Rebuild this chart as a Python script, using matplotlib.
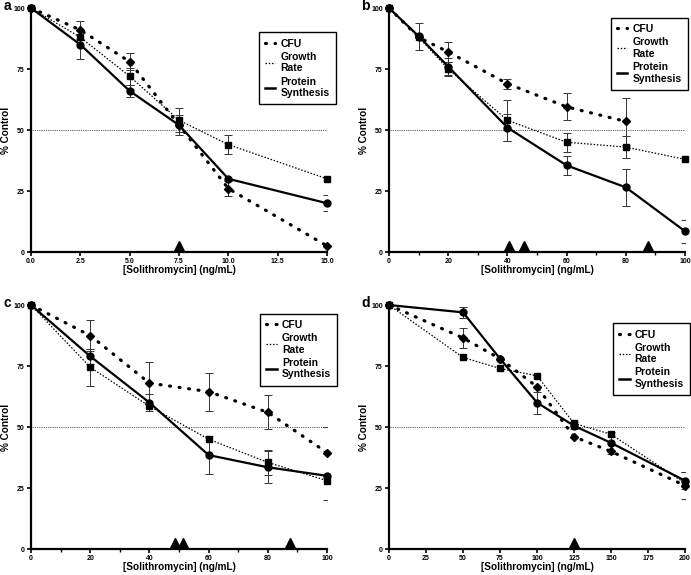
import numpy as np
import matplotlib
matplotlib.use("Agg")
import matplotlib.pyplot as plt
from matplotlib.lines import Line2D
from matplotlib.transforms import ScaledTranslation

plt.rcParams['font.family'] = ['Liberation Sans', 'DejaVu Sans']
plt.rcParams['font.weight'] = 'bold'

# panel a
a_x = [0, 2.5, 5, 7.5, 10, 15]
a_cfu = [100, 91, 78, 52, 26, 2.5]
a_cfu_err = [0, 3.5, 3.5, 0, 3, 0]
a_gr = [100, 88, 72, 54, 44, 30]
a_gr_err = [0, 0, 3.5, 5, 4, 0]
a_ps = [100, 85, 66, 52, 30, 20]
a_ps_err = [0, 6, 2.5, 4, 0, 3.3]
a_ic50 = [7.5]

# panel b
b_x = [0, 10, 20, 40, 60, 80, 100]
b_cfu = [100, 88, 82, 69, 59.5, 53.5, np.nan]
b_cfu_err = [0, 0, 4, 2, 5.5, 9.5, 0]
b_gr = [100, 88, 75, 54, 45, 43, 38]
b_gr_err = [0, 0, 3, 8.5, 3.8, 4.5, 0]
b_ps = [100, 88.5, 76, 51, 35.5, 26.5, 8.5]
b_ps_err = [0, 5.5, 3.5, 5.5, 4, 7.5, 4.8]
b_ic50 = [40.5, 45.5, 87.5]

# panel c
c_x = [0, 20, 40, 60, 80, 100]
c_cfu = [100, 87.5, 68, 64.5, 56, 39.5]
c_cfu_err = [0, 6.5, 8.5, 7.8, 7, 10.5]
c_gr = [100, 74.5, 58.5, 45, 35.5, 28]
c_gr_err = [0, 7.5, 0, 0, 5, 0]
c_ps = [100, 79, 60, 38.5, 33.5, 30]
c_ps_err = [0, 3, 3.5, 7.8, 6.5, 10]
c_ic50 = [48.5, 51.5, 87.5]

# panel d
d_x = [0, 50, 75, 100, 125, 150, 200]
d_cfu = [100, 86.5, 78, 66.5, 46, 40, 26]
d_cfu_err = [0, 4, 0, 0, 0, 0, 5.5]
d_gr = [100, 78.5, 74, 71, 51.5, 47, 27]
d_gr_err = [0, 0, 0, 0, 0, 0, 0]
d_ps = [100, 97, 78, 60, 50.5, 43.5, 28]
d_ps_err = [0, 2.3, 0, 4.5, 1.5, 4.5, 3.5]
d_ic50 = [125]

panels = [
    ("a", a_x, a_cfu, a_cfu_err, a_gr, a_gr_err, a_ps, a_ps_err, a_ic50, np.arange(0, 15.1, 2.5), None, "{:.1f}"),
    ("b", b_x, b_cfu, b_cfu_err, b_gr, b_gr_err, b_ps, b_ps_err, b_ic50, np.arange(0, 101, 20), np.arange(10, 100, 20), "{:.0f}"),
    ("c", c_x, c_cfu, c_cfu_err, c_gr, c_gr_err, c_ps, c_ps_err, c_ic50, np.arange(0, 101, 20), np.arange(10, 100, 20), "{:.0f}"),
    ("d", d_x, d_cfu, d_cfu_err, d_gr, d_gr_err, d_ps, d_ps_err, d_ic50, np.arange(0, 201, 25), None, "{:.0f}"),
]

# axes rectangles in figure fractions (left, bottom, width, height)
rects = [
    (0.0449, 0.5617, 0.4284, 0.4243),
    (0.5630, 0.5617, 0.4284, 0.4243),
    (0.0449, 0.0452, 0.4284, 0.4243),
    (0.5630, 0.0452, 0.4284, 0.4243),
]
# legend upper-right corner, axes fractions
leg_anchor = [(1.03, 0.90), (1.01, 0.96), (1.035, 0.965), (1.017, 0.925)]

CFU_LS = (0, (0.3, 2.7))
GR_LS = (0, (1.2, 1.4))

fig = plt.figure(figsize=(6.91, 5.75), dpi=100)

for (lab, x, cfu, cfu_e, gr, gr_e, ps, ps_e, ic50, ticks, minor, fmt), r, la in zip(panels, rects, leg_anchor):
    ax = fig.add_axes(r)
    x = np.array(x, float)

    ax.axhline(50, color="#222222", lw=0.6, ls=(0, (1.0, 1.2)), zorder=1)

    # error bars
    for y, e in [(cfu, cfu_e), (gr, gr_e), (ps, ps_e)]:
        y = np.array(y, float); e = np.array(e, float)
        m = (e > 0) & ~np.isnan(y)
        ax.errorbar(x[m], y[m], yerr=e[m], fmt="none", ecolor="#333333",
                    elinewidth=0.7, capsize=3, capthick=0.7, zorder=2)

    ax.plot(x, cfu, color="black", lw=2.3, ls=CFU_LS, dash_capstyle="round",
            marker="D", ms=4.5, zorder=3, clip_on=False)
    ax.plot(x, gr, color="black", lw=0.9, ls=GR_LS,
            marker="s", ms=5, zorder=3, clip_on=False)
    ax.plot(x, ps, color="black", lw=1.6, ls="-",
            marker="o", ms=5, zorder=4, clip_on=False)

    # IC50 triangles sitting on the x axis
    off = ax.transData + ScaledTranslation(0, 4 / 72, fig.dpi_scale_trans)
    ax.plot(ic50, np.zeros(len(ic50)), ls="none", marker="^", ms=6.5,
            color="black", transform=off, clip_on=False, zorder=5)

    ax.set_xlim(0, x.max())
    ax.set_ylim(0, 100)
    ax.set_xticks(ticks)
    ax.set_xticklabels([fmt.format(t) for t in ticks])
    if minor is not None:
        ax.set_xticks(minor, minor=True)
    ax.set_yticks([0, 25, 50, 75, 100])
    ax.tick_params(labelsize=5, width=1.2, length=3, pad=1.5)
    ax.tick_params(which="minor", width=1.0, length=2)
    for t in ax.get_xticklabels() + ax.get_yticklabels():
        t.set_fontweight("bold")
    for s in ["top", "right"]:
        ax.spines[s].set_visible(False)
    for s in ["left", "bottom"]:
        ax.spines[s].set_linewidth(1.6)

    ax.set_xlabel("[Solithromycin] (ng/mL)", fontsize=7.2, fontweight="bold")
    ax.set_ylabel("% Control", fontsize=7.2, fontweight="bold")
    ax.xaxis.set_label_coords(0.5, -0.074)
    ax.yaxis.set_label_coords(-0.083, 0.5)
    ax.xaxis.label.set_va("center")
    ax.yaxis.label.set_va("center")

    handles = [
        Line2D([], [], color="black", lw=2.3, ls=CFU_LS, dash_capstyle="round"),
        Line2D([], [], color="black", lw=0.9, ls=GR_LS),
        Line2D([], [], color="black", lw=1.8, ls="-"),
    ]
    leg = ax.legend(handles, ["CFU", "Growth\nRate", "Protein\nSynthesis"],
                    loc="upper right", bbox_to_anchor=la, borderaxespad=0,
                    fontsize=7.5, handlelength=1.0, handletextpad=0.5,
                    borderpad=0.6, labelspacing=0.3, fancybox=False,
                    framealpha=1, edgecolor="black")
    leg.get_frame().set_linewidth(1.0)
    for t in leg.get_texts():
        t.set_fontweight("bold")

    pos = ax.get_position()
    fig.text(pos.x0 - 0.04, pos.y1 + 0.003, lab, fontsize=10, fontweight="bold",
             ha="left", va="center")

fig.savefig("out.png", dpi=100)
